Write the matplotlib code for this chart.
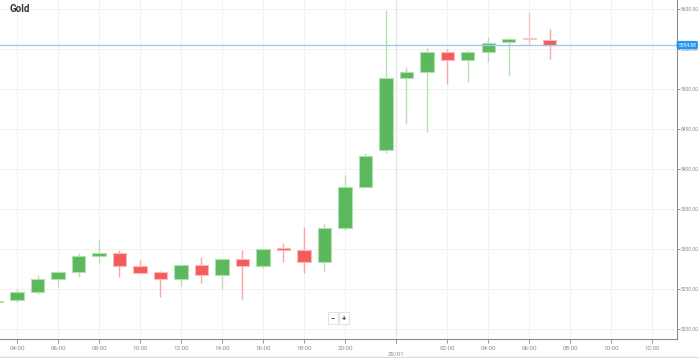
import matplotlib
matplotlib.use('Agg')
import matplotlib.pyplot as plt
from matplotlib.patches import Rectangle
from matplotlib.lines import Line2D

plt.rcParams['font.family'] = ['Roboto', 'DejaVu Sans']

# hourly candles, 28/01 03:00 .. 29/01 07:00 (market pause at 22:00)
dni = [28] * 19 + [28] + [29] * 8
godziny = list(range(3, 22)) + [23] + list(range(0, 8))
otwarcie = [5233.8, 5236.3, 5246.6, 5262.1, 5270.9, 5291.3, 5294.6, 5278.8, 5270.9, 5262.5,
            5280.0, 5267.1, 5287.1, 5278.8, 5300.9, 5298.8, 5283.8, 5326.3, 5377.9, 5424.1,
            5514.1, 5521.3, 5545.9, 5535.9, 5545.9, 5558.4, 5563.0, 5561.6]
zamkniecie = [5235.5, 5246.6, 5262.1, 5270.9, 5291.6, 5294.6, 5278.4, 5270.4, 5262.5, 5280.0,
              5267.1, 5287.1, 5278.8, 5300.0, 5298.8, 5283.8, 5326.6, 5377.9, 5415.9, 5514.1,
              5521.3, 5545.9, 5535.9, 5545.9, 5557.9, 5562.1, 5562.2, 5554.88]
maks = [5236.0, 5250.0, 5267.5, 5272.5, 5294.6, 5312.5, 5298.8, 5286.3, 5272.5, 5280.5,
        5290.4, 5289.1, 5298.8, 5300.5, 5307.1, 5327.1, 5332.1, 5392.5, 5420.4, 5598.8,
        5527.9, 5551.6, 5549.6, 5548.8, 5564.6, 5564.1, 5595.9, 5575.0]
minim = [5233.5, 5233.8, 5243.8, 5252.9, 5264.6, 5282.1, 5265.4, 5269.6, 5240.4, 5253.8,
         5257.9, 5250.0, 5237.1, 5275.9, 5284.1, 5269.6, 5271.3, 5323.8, 5376.3, 5420.4,
         5456.3, 5446.6, 5505.9, 5509.1, 5533.8, 5516.3, 5555.0, 5537.5]

etykiety_x = [(28, 4), (28, 6), (28, 8), (28, 10), (28, 12), (28, 14), (28, 16), (28, 18),
              (28, 20), (29, 2), (29, 4), (29, 6), (29, 8), (29, 10), (29, 12)]
ceny_y = [5200, 5250, 5300, 5350, 5400, 5450, 5500, 5550, 5600]
tytul = 'Gold'


def slot(dzien, godz):
    h = (dzien - 28) * 24 + godz - 3
    if h > 19:  # 22:00 break removed
        h -= 1
    return h


ziel, ziel_kraw, ziel_knot = '#5cb85c', '#b2dfae', '#b9e0b5'
czer, czer_kraw, czer_knot = '#f65b5b', '#fbb9b9', '#f7a7a7'

rys = plt.figure(figsize=(6.99, 3.58), dpi=100)
os_ = rys.add_axes([0, 1 - 339 / 358, 677 / 699, 339 / 358])

szer = 0.64
for i in range(len(otwarcie)):
    x = slot(dni[i], godziny[i])
    o, c, hi, lo = otwarcie[i], zamkniecie[i], maks[i], minim[i]
    if abs(c - o) < 1.5:
        kol, kraw, knot = '#fbc4c4', '#fbc4c4', '#fbc4c4'
    elif c >= o:
        kol, kraw, knot = ziel, ziel_kraw, ziel_knot
    else:
        kol, kraw, knot = czer, czer_kraw, czer_knot
    os_.plot([x, x], [lo, hi], color=knot, lw=1, zorder=2, solid_capstyle='butt')
    dol = min(o, c)
    wys = max(abs(c - o), 1.0)
    os_.add_patch(Rectangle((x - szer / 2, dol), szer, wys, facecolor=kol,
                            edgecolor=kraw, lw=0.8, zorder=3))

os_.set_xlim(0.17, 33.2)
os_.set_ylim(5187.5, 5611.25)

pozycje_x = [slot(d, g) for d, g in etykiety_x]
os_.set_xticks(pozycje_x)
os_.set_xticklabels(['%02d:00' % g for d, g in etykiety_x])
os_.set_yticks(ceny_y)
os_.set_yticklabels(['%.2f' % v for v in ceny_y])
os_.yaxis.tick_right()
os_.tick_params(axis='x', length=3, width=0.6, color='#888888', labelsize=4.5,
                labelcolor='#8a8a8a', pad=2)
os_.tick_params(axis='y', length=2, width=0.6, color='#888888', labelsize=3.6,
                labelcolor='#8a8a8a', pad=0.5)
os_.grid(True, color='#f2f2f2', lw=0.8, zorder=0)
os_.set_axisbelow(True)

for s in ['top', 'left']:
    os_.spines[s].set_visible(False)
for s in ['bottom', 'right']:
    os_.spines[s].set_color('#8c8c8c')
    os_.spines[s].set_linewidth(0.8)

# day separator
dzien_x = slot(29, 0) - 0.5
os_.axvline(dzien_x, color='#e6e6e6', lw=1, zorder=1)
os_.plot([dzien_x, dzien_x], [0, -0.012], transform=os_.get_xaxis_transform(),
         color='#888888', lw=0.6, clip_on=False)
os_.text(dzien_x, -0.037, '29/01', transform=os_.get_xaxis_transform(), ha='center',
         va='top', fontsize=4.5, color='#8a8a8a')

# current price line
ostatnia = zamkniecie[-1]
os_.axhline(ostatnia, color='#9ccbef', lw=1, zorder=4)
os_.text(1.002, ostatnia, '%.2f' % ostatnia, transform=os_.get_yaxis_transform(),
         ha='left', va='center', fontsize=3.6, color='white', zorder=6, clip_on=False,
         bbox=dict(boxstyle='round,pad=0.2,rounding_size=0.2', fc='#2196f3', ec='#2196f3'))

os_.text(10 / 677, 1 - 9 / 339, tytul, transform=os_.transAxes, ha='left', va='center',
         fontsize=7, fontweight='bold', color='#333333')

# zoom buttons
for tx, px in [('\u2212', 333), ('+', 344)]:
    os_.text(px / 677, 1 - 318 / 339, tx, transform=os_.transAxes, ha='center',
             va='center', fontsize=5.5, fontweight='bold', color='#444444', zorder=6,
             bbox=dict(boxstyle='square,pad=0.35', fc='white', ec='#dddddd', lw=0.6))

rys.add_artist(Line2D([0, 1], [1 - 356.5 / 358] * 2, transform=rys.transFigure,
                      color='#dcdcdc', lw=1))

plt.savefig('out.png', dpi=100)
